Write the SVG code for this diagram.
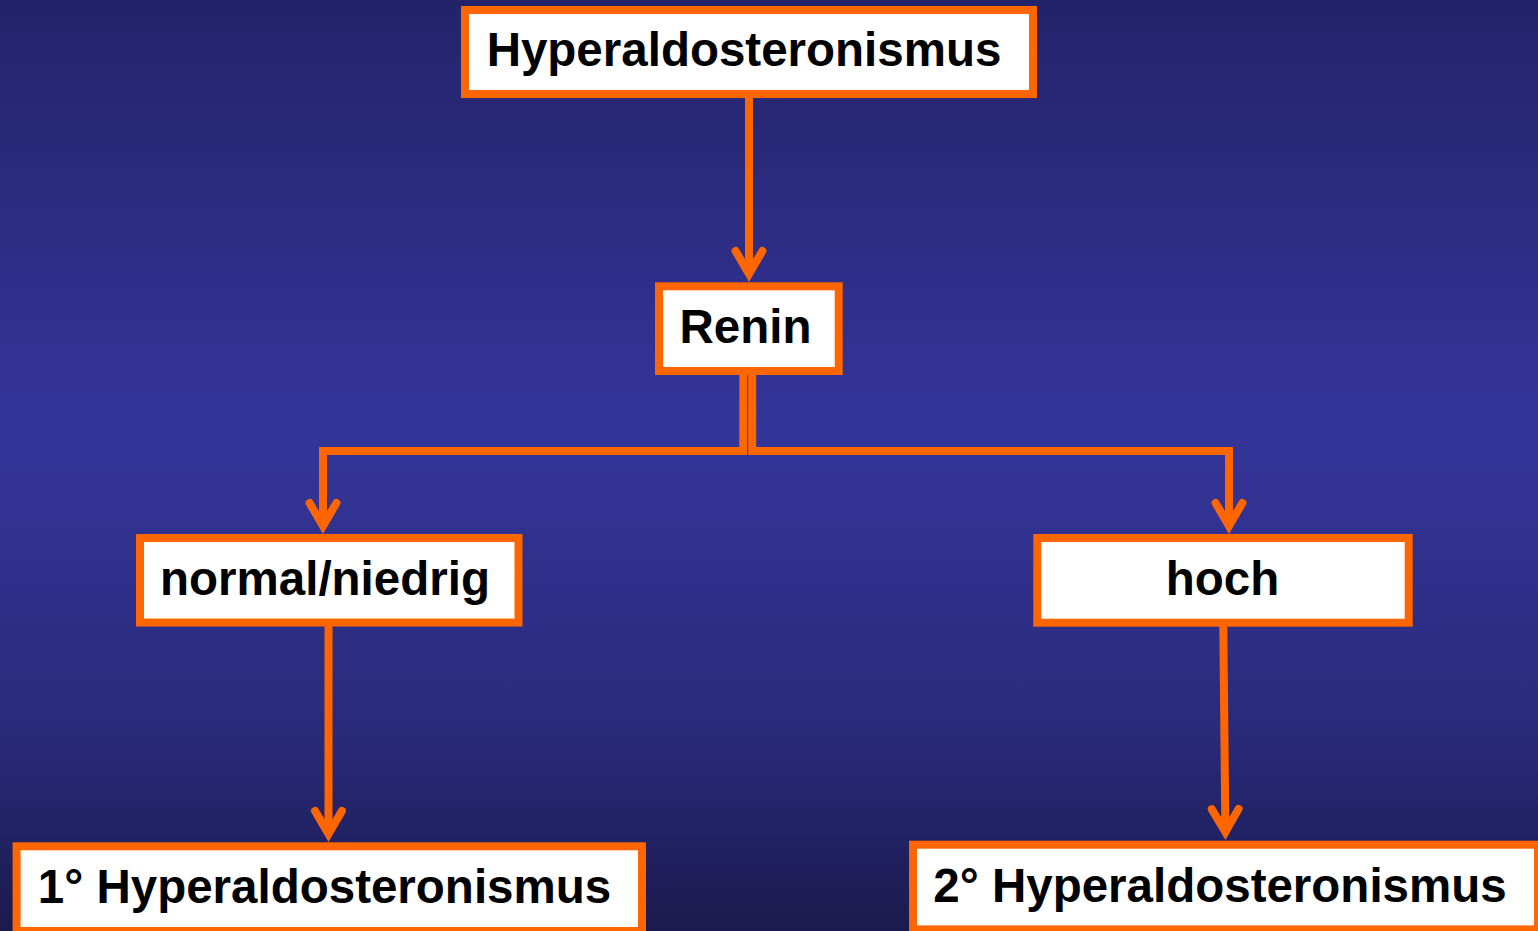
<svg xmlns="http://www.w3.org/2000/svg" width="1538" height="931" viewBox="0 0 1538 931">
  <defs>
    <linearGradient id="bg" x1="0" y1="0" x2="0" y2="1">
      <stop offset="0" stop-color="#23236a"/>
      <stop offset="0.46" stop-color="#34359a"/>
      <stop offset="0.78" stop-color="#2a2a7c"/>
      <stop offset="1" stop-color="#1b1a4e"/>
    </linearGradient>
    <marker id="arr" markerUnits="userSpaceOnUse" orient="auto" refX="0" refY="0" markerWidth="40" markerHeight="40" overflow="visible">
      <path d="M -23 -13.4 L 0 0 L -23 13.4" fill="none" stroke="#ff6600" stroke-width="8" stroke-linecap="round" stroke-linejoin="miter"/>
    </marker>
    <style>
      .box { fill: #ffffff; stroke: #ff6600; stroke-width: 8; }
      .lbl { font-family: "Liberation Sans", Arial, Helvetica, sans-serif; font-weight: bold; font-size: 47.5px; fill: #000000; text-anchor: middle; }
      .con { fill: none; stroke: #ff6600; stroke-width: 8; stroke-linejoin: miter; stroke-linecap: butt; }
    </style>
  </defs>
  <rect x="0" y="0" width="1538" height="931" fill="url(#bg)"/>

  <g id="connectors">
    <path class="con" d="M 749 98 V 274" marker-end="url(#arr)"/>
    <path class="con" d="M 743.3 370 V 451 H 323 V 526" marker-end="url(#arr)"/>
    <path class="con" d="M 752.2 370 V 451 H 1229 V 526" marker-end="url(#arr)"/>
    <path class="con" d="M 328.5 626 V 834" marker-end="url(#arr)"/>
    <path class="con" d="M 1223.3 626 L 1225.4 832" marker-end="url(#arr)"/>
  </g>

  <g id="node-hyperaldosteronismus">
    <rect class="box" x="465" y="10" width="568" height="84"/>
    <text class="lbl" x="744" y="66">Hyperaldosteronismus</text>
  </g>
  <g id="node-renin">
    <rect class="box" x="659" y="286.3" width="179.7" height="84.7"/>
    <text class="lbl" x="745.5" y="342.7">Renin</text>
  </g>
  <g id="node-normal-niedrig">
    <rect class="box" x="140" y="538" width="378.5" height="84.5"/>
    <text class="lbl" x="325" y="594.5">normal/niedrig</text>
  </g>
  <g id="node-hoch">
    <rect class="box" x="1037.3" y="538" width="371.4" height="84.7"/>
    <text class="lbl" x="1222.5" y="594.5">hoch</text>
  </g>
  <g id="node-primaer">
    <rect class="box" x="16.6" y="846.3" width="625.4" height="84.7"/>
    <text class="lbl" x="324.5" y="903">1° Hyperaldosteronismus</text>
  </g>
  <g id="node-sekundaer">
    <rect class="box" x="913" y="844.7" width="625" height="84.7"/>
    <text class="lbl" x="1220" y="901.5">2° Hyperaldosteronismus</text>
  </g>
</svg>
